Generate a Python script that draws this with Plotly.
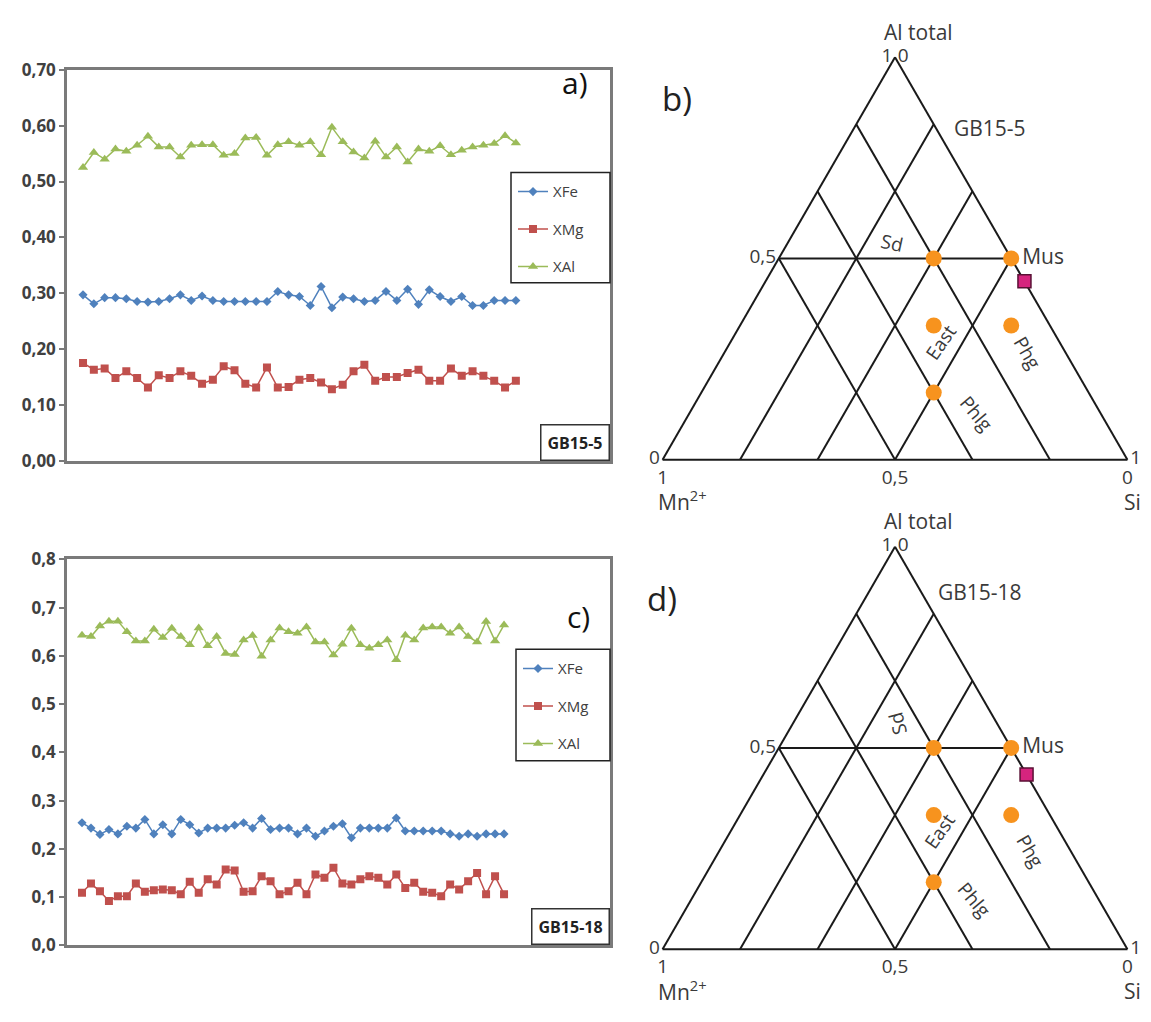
import plotly.graph_objects as go

# page is 1151x1022; the browser body keeps an 8 px margin around the figure
FW, FH, OFF = 1135, 1006, 8

def px(x):
    return (x - OFF) / FW

def py(y):
    return 1 - (y - OFF) / FH

# ---------------- data: panel a (GB15-5) ----------------
xfe_a = [0.297, 0.281, 0.292, 0.292, 0.290, 0.285, 0.284, 0.285, 0.290, 0.297,
         0.287, 0.295, 0.287, 0.285, 0.285, 0.285, 0.285, 0.285, 0.303, 0.297,
         0.294, 0.278, 0.312, 0.274, 0.293, 0.290, 0.285, 0.287, 0.303, 0.287,
         0.307, 0.280, 0.306, 0.294, 0.285, 0.294, 0.278, 0.278, 0.287, 0.287,
         0.287]
xmg_a = [0.175, 0.163, 0.165, 0.148, 0.160, 0.148, 0.131, 0.153, 0.148, 0.160,
         0.152, 0.138, 0.145, 0.169, 0.162, 0.138, 0.131, 0.167, 0.131, 0.132,
         0.145, 0.148, 0.140, 0.128, 0.136, 0.160, 0.172, 0.143, 0.150, 0.150,
         0.157, 0.163, 0.143, 0.143, 0.165, 0.152, 0.160, 0.152, 0.143, 0.131,
         0.143]
xal_a = [0.525, 0.552, 0.540, 0.558, 0.554, 0.565, 0.581, 0.562, 0.562, 0.544,
         0.565, 0.566, 0.566, 0.547, 0.550, 0.578, 0.579, 0.547, 0.566, 0.571,
         0.565, 0.571, 0.548, 0.597, 0.571, 0.553, 0.542, 0.572, 0.544, 0.562,
         0.535, 0.558, 0.554, 0.564, 0.548, 0.556, 0.562, 0.565, 0.568, 0.582,
         0.569]

# ---------------- data: panel c (GB15-18) ----------------
xfe_c = [0.254, 0.243, 0.230, 0.240, 0.231, 0.247, 0.243, 0.261, 0.231, 0.250,
         0.231, 0.261, 0.250, 0.233, 0.243, 0.243, 0.243, 0.249, 0.254, 0.243,
         0.263, 0.240, 0.243, 0.243, 0.231, 0.243, 0.226, 0.237, 0.247, 0.252,
         0.223, 0.243, 0.243, 0.243, 0.243, 0.264, 0.237, 0.237, 0.237, 0.237,
         0.237, 0.231, 0.226, 0.231, 0.226, 0.231, 0.231, 0.231]
xmg_c = [0.109, 0.128, 0.112, 0.092, 0.102, 0.102, 0.128, 0.111, 0.114, 0.116,
         0.114, 0.106, 0.132, 0.109, 0.137, 0.126, 0.157, 0.155, 0.111, 0.112,
         0.143, 0.133, 0.106, 0.112, 0.130, 0.106, 0.147, 0.140, 0.161, 0.128,
         0.126, 0.137, 0.143, 0.140, 0.126, 0.147, 0.119, 0.130, 0.111, 0.109,
         0.102, 0.126, 0.116, 0.133, 0.150, 0.106, 0.143, 0.106]
xal_c = [0.643, 0.640, 0.662, 0.672, 0.672, 0.650, 0.631, 0.631, 0.655, 0.638,
         0.657, 0.640, 0.623, 0.658, 0.621, 0.640, 0.605, 0.603, 0.633, 0.642,
         0.599, 0.633, 0.658, 0.650, 0.647, 0.660, 0.629, 0.629, 0.602, 0.624,
         0.657, 0.623, 0.616, 0.623, 0.633, 0.592, 0.643, 0.633, 0.658, 0.660,
         0.660, 0.647, 0.660, 0.640, 0.629, 0.671, 0.631, 0.664]

series_names = ["XFe", "XMg", "XAl"]
yticks_a = [0.0, 0.1, 0.2, 0.3, 0.4, 0.5, 0.6, 0.7]
yticks_c = [0.0, 0.1, 0.2, 0.3, 0.4, 0.5, 0.6, 0.7, 0.8]

# ---------------- ternary data (a = Al total, b = Mn2+, c = Si) ----------------
em_names = ["Sd", "Mus", "East", "Phg", "Phlg"]
em_al = [1/2, 1/2, 1/3, 1/3, 1/6]
em_mn = [1/6, 0.0, 1/4, 1/12, 1/3]
em_si = [1/3, 1/2, 5/12, 7/12, 1/2]

sample_b = dict(al=[0.443], mn=[0.0], si=[0.557])
sample_d = dict(al=[0.434], mn=[0.0], si=[0.566])

grid_vals = [0, 1/6, 1/3, 1/2, 1]
a_ticks = [0, 0.5, 1]
a_ticktext = ["0", "0,5", "1"]
b_ticktext = ["0", "", "", "0,5", "1"]
c_ticktext = ["0", "", "", "", "1"]

region_labels = ["Sd", "East", "Phg", "Phlg"]

# ---------------- styling ----------------
BLUE, RED, GREEN = "#4F81BD", "#C0504D", "#9BBB59"
ORANGE, MAGENTA = "#F7931E", "#D6247E"
AX = "#7a7a7a"
TXT = "#3a3a3a"
FONT = "Open Sans"

fig = go.Figure()

def add_series(xa, ya, legend, vals):
    x = list(range(1, len(vals[0]) + 1))
    styles = [
        (BLUE, "diamond", 7),
        (RED, "square", 8),
        (GREEN, "triangle-up", 9),
    ]
    for name, v, (col, sym, sz) in zip(series_names, vals, styles):
        fig.add_trace(go.Scatter(
            x=x, y=v, name=name, mode="lines+markers",
            line=dict(color=col, width=1.5),
            marker=dict(color=col, symbol=sym, size=sz),
            xaxis=xa, yaxis=ya, legend=legend, legendgroup=legend + name,
        ))

add_series("x", "y", "legend", [xfe_a, xmg_a, xal_a])
add_series("x2", "y2", "legend2", [xfe_c, xmg_c, xal_c])

# left panels geometry (reference pixels)
LX0, LX1 = 67, 610
A_TOP, A_BOT = 59, 459
C_TOP, C_BOT = 560, 955

def xaxis_cfg(rng, anchor):
    return dict(domain=[px(LX0), px(LX1)], range=rng, showticklabels=False,
                showgrid=False, zeroline=False, showline=True, mirror=True,
                linecolor=AX, linewidth=2.5, ticks="", anchor=anchor)

def yaxis_cfg(top, bot, rng, vals, fmt, anchor):
    return dict(domain=[py(bot), py(top)], range=rng, tickmode="array",
                tickvals=vals, tickformat=fmt, ticks="outside", ticklen=5,
                tickcolor=AX, tickwidth=1.5, showline=True, mirror=True,
                linecolor=AX, linewidth=2.5, showgrid=False, zeroline=False,
                anchor=anchor,
                tickfont=dict(family=FONT, size=17, color="#404040", weight="bold"))

def legend_cfg(x, y):
    return dict(x=px(x), y=py(y), xanchor="left", yanchor="top",
                borderwidth=0, bgcolor="rgba(0,0,0,0)",
                font=dict(family=FONT, size=15, color="#404040"),
                tracegroupgap=15, itemwidth=30)

# legend frames (box drawn around each legend)
LEG_A = dict(x0=511, x1=610, y0=164, y1=277)
LEG_C = dict(x0=516, x1=610, y0=652, y1=766)

fig.update_layout(
    width=FW, height=FH, margin=dict(l=0, r=0, t=0, b=0),
    paper_bgcolor="white", plot_bgcolor="white", separators=",.",
    xaxis=xaxis_cfg([-0.48, 49.7], "y"),
    yaxis=yaxis_cfg(A_TOP, A_BOT, [0, 0.7], yticks_a, ".2f", "x"),
    xaxis2=xaxis_cfg([-0.67, 59.8], "y2"),
    yaxis2=yaxis_cfg(C_TOP, C_BOT, [0, 0.8], yticks_c, ".1f", "x2"),
    legend=legend_cfg(LEG_A["x0"] + 2, LEG_A["y0"] + 3),
    legend2=legend_cfg(LEG_C["x0"] + 2, LEG_C["y0"] + 3),
)

for box in (LEG_A, LEG_C):
    fig.add_shape(type="rect", xref="paper", yref="paper",
                  x0=px(box["x0"]), x1=px(box["x1"]), y0=py(box["y1"]), y1=py(box["y0"]),
                  line=dict(color="#222", width=1.5), fillcolor="white", layer="above")

# sample boxes and panel letters (left)
for xr, yr, txt in (("x domain", "y domain", "GB15-5"), ("x2 domain", "y2 domain", "GB15-18")):
    fig.add_annotation(xref=xr, yref=yr, x=1, y=0, xanchor="right", yanchor="bottom",
                       text="<b>" + txt + "</b>", showarrow=False, bgcolor="white",
                       bordercolor="#333", borderwidth=1.5, borderpad=6,
                       font=dict(family=FONT, size=16, color="#222"))

def text_at(x, y, txt, size, color=TXT, angle=0, xanchor="center"):
    fig.add_annotation(x=px(x), y=py(y), xref="paper", yref="paper", text=txt,
                       textangle=angle, showarrow=False, xanchor=xanchor,
                       yanchor="middle", font=dict(family=FONT, size=size, color=color))

text_at(575, 72, "a)", 30, "#111")
text_at(578, 618, "c)", 30, "#111")

# ---------------- ternary panels ----------------
TERN = {
    "ternary": dict(x0=657, x1=1133, top=46, bot=458),
    "ternary2": dict(x0=657, x1=1133, top=547, bot=959),
}

def tern_axis(vals, text):
    return dict(tickmode="array", tickvals=vals, ticktext=text, ticks="",
                showgrid=True, gridcolor="#1a1a1a", gridwidth=2,
                showline=True, linecolor="#1a1a1a", linewidth=2,
                layer="below traces", min=0,
                tickfont=dict(family=FONT, size=19, color=TXT),
                title=dict(text=""))

for key, g in TERN.items():
    fig.update_layout(**{key: dict(
        domain=dict(x=[px(g["x0"]), px(g["x1"])], y=[py(g["bot"]), py(g["top"])]),
        bgcolor="white", sum=1,
        aaxis=tern_axis(a_ticks, a_ticktext),
        baxis=tern_axis(grid_vals, b_ticktext),
        caxis=tern_axis(grid_vals, c_ticktext),
    )})

def tpos(key, a, c):
    g = TERN[key]
    x = g["x0"] + (c + a / 2) * (g["x1"] - g["x0"])
    y = g["bot"] - a * (g["bot"] - g["top"])
    return x, y

for key, samp in (("ternary", sample_b), ("ternary2", sample_d)):
    fig.add_trace(go.Scatterternary(
        a=em_al, b=em_mn, c=em_si, subplot=key, mode="markers+text",
        text=["" if n != "Mus" else "Mus" for n in em_names],
        textposition="middle right",
        textfont=dict(family=FONT, size=21, color=TXT),
        marker=dict(color=ORANGE, size=16), cliponaxis=False, showlegend=False))
    fig.add_trace(go.Scatterternary(
        a=samp["al"], b=samp["mn"], c=samp["si"], subplot=key, mode="markers",
        marker=dict(color=MAGENTA, symbol="square", size=13,
                    line=dict(color="#5a1035", width=1.5)),
        cliponaxis=False, showlegend=False))

# rotated region labels (positions given in ternary coordinates: Al, Si)
label_pos = {
    "ternary": [(0.538, 0.225, 12), (0.293, 0.450, -55), (0.266, 0.646, 60), (0.115, 0.612, 50)],
    "ternary2": [(0.561, 0.226, -105), (0.294, 0.447, -55), (0.245, 0.662, 60), (0.124, 0.603, 50)],
}
for key, lst in label_pos.items():
    for name, (a, c, ang) in zip(region_labels, lst):
        x, y = tpos(key, a, c)
        text_at(x, y, name, 19, TXT, ang)

# sample names next to the right edge
for key, name, a, gap in (("ternary", "GB15-5", 0.824, 15), ("ternary2", "GB15-18", 0.888, 14)):
    x, y = tpos(key, a, 1 - a)
    text_at(x + gap, y, name, 21, TXT, 0, "left")

# axis titles of the ternary diagrams
for key in TERN:
    g = TERN[key]
    text_at(g["x0"] + 0.55 * (g["x1"] - g["x0"]), g["top"] - 26, "Al total", 21)
    text_at(g["x0"] - 1, g["bot"] + 42, "Mn<sup>2+</sup>", 21, TXT, 0, "left")
    fig.add_annotation(x=1, y=py(g["bot"] + 43), xref="paper", yref="paper", text="Si",
                       showarrow=False, xanchor="right", yanchor="middle",
                       font=dict(family=FONT, size=21, color=TXT))

text_at(677, 88, "b)", 33, "#222")
text_at(662, 600, "d)", 33, "#222")

fig.write_html("out.html", config={"displayModeBar": False})
